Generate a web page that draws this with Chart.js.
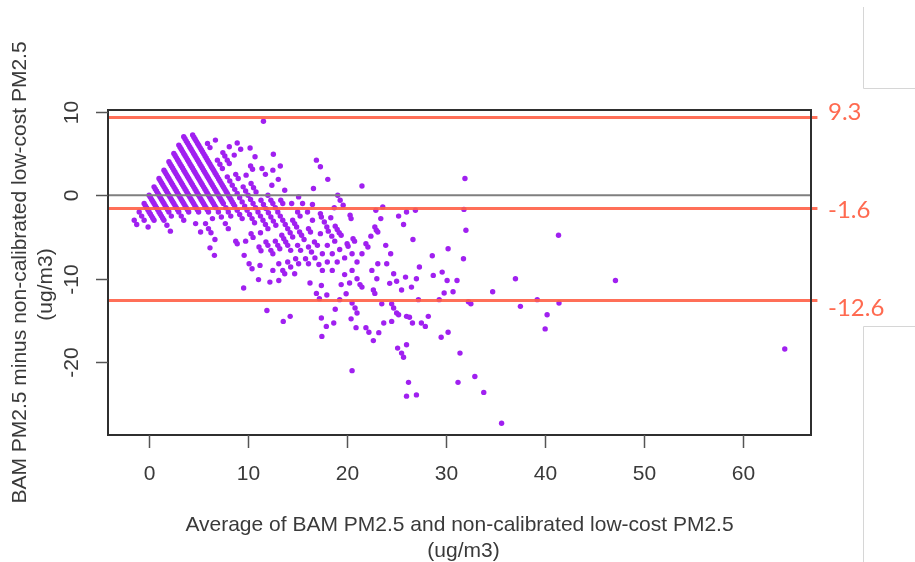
<!DOCTYPE html>
<html>
<head>
<meta charset="utf-8">
<script src="https://cdn.jsdelivr.net/npm/chart.js@4.4.0/dist/chart.umd.min.js"></script>
<style>
  html, body { margin: 0; padding: 0; background: #fff; }
</style>
</head>
<body>
<canvas id="ba-chart" width="915" height="562"></canvas>
<script>
  // Data: [average, difference]
  const coreLeft = [
    [-1.5,-3],[-1.25,-3.5],
    [-1,-2],[-0.75,-2.5],[-0.5,-3],[-0.1,-3.8],
    [-0.5,-1],[-0.25,-1.5],[0,-2],[0.25,-2.5],[0.5,-3],
    [0,0],[0.25,-0.5],[0.5,-1],[0.75,-1.5],[1,-2],[1.25,-2.5],[1.5,-3],[1.8,-3.6],[2.15,-4.3],
    [0.5,1],[0.75,0.5],[1,0],[1.25,-0.5],[1.5,-1],[1.75,-1.5],[2,-2],[2.25,-2.5],
    [1,2],[1.25,1.5],[1.5,1],[1.75,0.5],[2,0],[2.25,-0.5],[2.5,-1],[2.75,-1.5],[3,-2],[3.25,-2.5],[3.5,-3],
    [1.5,3],[1.75,2.5],[2,2],[2.25,1.5],[2.5,1],[2.75,0.5],[3,0],[3.25,-0.5],[3.5,-1],[3.75,-1.5],[4,-2],
    [4.7,-3.4],[5.2,-4.4],[6.15,-6.3],[6.6,-7.2],
    [2,4],[2.25,3.5],[2.5,3],[2.75,2.5],[3,2],[3.25,1.5],[3.5,1],[3.75,0.5],[4,0],[4.25,-0.5],[4.5,-1],[4.75,-1.5],[5,-2],
    [5.7,-3.4],[6,-4],[6.25,-4.5],[6.65,-5.3],[9.55,-11.1],
    [2.5,5],[2.75,4.5],[3,4],[3.25,3.5],[3.5,3],[3.75,2.5],[4,2],[4.25,1.5],[4.5,1],[4.75,0.5],[5,0],[5.25,-0.5],[5.5,-1],[5.75,-1.5],[6,-2],
    [6.4,-2.8],[11.9,-13.8]
  ];
  const coreFill = [
    [-0.375,-1.25],[-0.125,-1.75],[0.125,-2.25],[0.375,-2.75],
    [0.125,-0.25],[0.375,-0.75],[0.625,-1.25],[0.875,-1.75],[1.125,-2.25],[1.375,-2.75],
    [0.625,0.75],[0.875,0.25],[1.125,-0.25],[1.375,-0.75],[1.625,-1.25],[1.875,-1.75],
    [1.125,1.75],[1.375,1.25],[1.625,0.75],[1.875,0.25],[2.125,-0.25],[2.375,-0.75],[2.625,-1.25],[2.875,-1.75],
    [1.625,2.75],[1.875,2.25],[2.125,1.75],[2.375,1.25],[2.625,0.75],[2.875,0.25],[3.125,-0.25],[3.375,-0.75],[3.625,-1.25],[3.875,-1.75],
    [2.125,3.75],[2.375,3.25],[2.625,2.75],[2.875,2.25],[3.125,1.75],[3.375,1.25],[3.625,0.75],[3.875,0.25],[4.125,-0.25],[4.375,-0.75],[4.625,-1.25],[4.875,-1.75],
    [2.625,4.75],[2.875,4.25],[3.125,3.75],[3.375,3.25],[3.625,2.75],[3.875,2.25],[4.125,1.75],[4.375,1.25],[4.625,0.75],[4.875,0.25],[5.125,-0.25],[5.375,-0.75],[5.625,-1.25],[5.875,-1.75],
    [3.125,5.75],[3.375,5.25],[3.625,4.75],[3.875,4.25],[4.125,3.75],[4.375,3.25],[4.625,2.75],[4.875,2.25],[5.125,1.75],[5.375,1.25],[5.625,0.75],[5.875,0.25],[6.125,-0.25],[6.375,-0.75],[6.625,-1.25],
    [3.625,6.75],[3.875,6.25],[4.125,5.75],[4.375,5.25],[4.625,4.75],[4.875,4.25],[5.125,3.75],[5.375,3.25],[5.625,2.75],[5.875,2.25],[6.125,1.75],[6.375,1.25],[6.625,0.75],[6.875,0.25],[7.125,-0.25],[7.375,-0.75],
    [4.525,6.95],[4.775,6.45],[5.025,5.95],[5.275,5.45],[5.525,4.95],[5.775,4.45],[6.025,3.95],[6.275,3.45],[6.525,2.95],[6.775,2.45],[7.025,1.95],[7.275,1.45],[7.525,0.95],[7.775,0.45],[8.025,-0.05],[8.275,-0.55],[8.525,-1.05]
  ];
  const coreRight = [
    [3,6],[3.25,5.5],[3.5,5],[3.75,4.5],[4,4],[4.25,3.5],[4.5,3],[4.75,2.5],[5,2],[5.25,1.5],[5.5,1],[5.75,0.5],[6,0],[6.25,-0.5],[6.5,-1],[6.75,-1.5],[7,-2],
    [7.3,-2.6],[7.7,-3.4],[8,-4],[8.75,-5.5],[8.9,-5.8],[9.6,-7.2],[10.1,-8.2],[10.4,-8.8],[11.05,-10.1],[13.55,-15.1],
    [3.5,7],[3.75,6.5],[4,6],[4.25,5.5],[4.5,5],[4.75,4.5],[5,4],[5.25,3.5],[5.5,3],[5.75,2.5],[6,2],[6.25,1.5],[6.5,1],[6.75,0.5],[7,0],[7.25,-0.5],[7.5,-1],
    [7.75,-1.5],[8,-2],[8.25,-2.5],[9.75,-5.5],[11.2,-8.4],[12.2,-10.4],[14.25,-14.5],
    [4.4,7.2],[4.65,6.7],[4.9,6.2],[5.15,5.7],[5.4,5.2],[5.65,4.7],[5.9,4.2],[6.15,3.7],[6.4,3.2],[6.65,2.7],[6.9,2.2],[7.15,1.7],[7.4,1.2],[7.65,0.7],[7.9,0.2],[8.15,-0.3],[8.4,-0.8],[8.65,-1.3],
    [8.9,-1.8],[9.15,-2.3],[9.4,-2.8],[10.3,-4.6],[10.5,-5.05],[11.1,-6.2],[11.3,-6.65],[12.5,-9],[13.1,-10.2],
    [5.9,6.2],[6.15,5.7],[6.9,4.2],[7.15,3.7],[7.4,3.2],[7.9,2.2],[8.15,1.7],[8.4,1.2],[8.65,0.7],[8.9,0.2],[9.15,-0.3],[9.4,-0.8],[9.65,-1.3],[9.9,-1.8],[10.15,-2.3],
    [10.4,-2.8],[10.65,-3.3],[11.25,-4.5],[11.8,-5.6],[12,-6],[12.3,-6.6],[12.5,-7],[13.1,-8.2],[13.5,-9],[13.7,-9.4],[17.45,-16.9],
    [6.7,6.6],[7.45,5.1],[7.65,4.7],[7.9,4.2],[8.1,3.8],[8.75,2.5],[9,2],[9.5,1],[9.75,0.5],[10,0],[10.25,-0.5],[10.5,-1],[10.75,-1.5],[11,-2],[11.25,-2.5],[11.5,-3],
    [11.75,-3.5],[12,-4],[12.75,-5.5],[13,-6],[13.2,-6.4],[14,-8],[14.3,-8.6],[14.7,-9.4],[17.4,-14.7],[17.9,-15.7],[20.5,-21],
    [8.1,5.8],[8.6,4.8],[9.8,2.4],[10.3,1.4],[10.55,0.9],[10.8,0.4],[11.3,-0.6],[11.55,-1.1],[11.8,-1.6],[12.05,-2.1],[12.3,-2.6],[12.55,-3.1],[12.8,-3.6],
    [13.4,-4.8],[13.6,-5.2],[13.8,-5.6],[14,-6],[14.3,-6.6],[14.8,-7.6],[15.1,-8.2],[16.25,-10.5],[16.9,-11.75],[17.2,-12.4],[18.65,-15.3],
    [8.9,6.25],[9.25,5.5],[10.25,3.5],[10.45,3.1],[12,0],[12.3,-0.6],[12.5,-1],[12.75,-1.5],[13,-2],[13.25,-2.5],[13.5,-3],[13.75,-3.5],[14,-4],[14.25,-4.5],[14.5,-5],
    [15,-6],[15.3,-6.6],[15.8,-7.6],[16.1,-8.2],[17.4,-10.8],[17.95,-11.95],[18.8,-13.65],
    [10.2,5.65],[10.7,4.6],[11.4,3.2],[11.75,2.5],[12.4,1.2],[13.3,-0.6],[13.5,-1],[14.5,-3],[14.7,-3.4],[14.9,-3.8],[15.2,-4.4],[15.4,-4.8],[15.65,-5.3],
    [16.1,-6.2],[16.4,-6.8],[16.75,-7.5],[17.15,-8.3],[17.5,-9],[19.25,-12.5],[20.4,-14.8],[20.9,-15.85]
  ];
  const middleSpread = [
    [16.9,4.2],[17.3,3.4],[18.05,1.9],[16.6,0.8],[21.5,1.1],
    [12.55,4.9],[13.25,3.5],[12.5,3],[13.05,1.9],[13.7,0.6],
    [14.4,-1],[15.1,-0.2],[16.5,-1.1],
    [19.05,0],[19.3,-0.6],[19.6,-1.2],[18.7,-1.5],[18.35,-2.7],
    [20.3,-2.4],[20.4,-2.8],[22.9,-1.8],[23.6,-1.4],[23.4,-2.8],
    [25.2,-2.5],[26,-2],[26.9,-1.8],[25.7,-3.5],
    [22.8,-3.8],[22.95,-4.2],[23.1,-4.4],[22.4,-4.9],
    [23.9,-6],[24.4,-7],[26.65,-5.3],[28.6,-7.25],[30.2,-6.4],
    [20.6,-5.2],[21.9,-5.8],[22.1,-6.2],[20,-5.8],[20.1,-6.1],
    [18.8,-3.7],[19,-4.1],[19.2,-4.5],[19.4,-4.8],
    [17.7,-3.2],[17.95,-3.8],[18.1,-4.3],[17.3,-4.6],[18.45,-4.9],
    [16.7,-5.6],[16.1,-4],[16.3,-4.4],[17.3,-2.2],[17.4,-2.6],
    [15,-2],[15.25,-2.5],[15.5,-1],[16,-2],[16.5,-3],
    [17,-6],[17.5,-7],[18,-8],[18.5,-9],[18,-6],[18.5,-7],[19,-8],[19.75,-9.5],[20.25,-10.5],
    [18.75,-5.5],[19.25,-6.5],[19.75,-7.5],[20.5,-9],[21,-10],[21.5,-11],
    [20.5,-7],[21,-8],[20.75,-5.5],[21.5,-7],[22.5,-9],[23,-10],
    [23.1,-8.2],[24,-8.2],[27.3,-8.6],
    [24.7,-9.4],[25,-10.3],[25.9,-9.8],[27,-10],[26.5,-11],[25.5,-11.35],
    [28.7,-9.6],[29.6,-9.2],[30.1,-10.2],[31.1,-10.2],
    [19.4,-10.7],[19.9,-11.8],[21.3,-10.7],[22.65,-11.35],[22.8,-11.75],[24.3,-10.55],
    [20.5,-12.9],[20.8,-13.5],[21,-14.1],[23.5,-13],[24.5,-13],[24.7,-13.5],[25,-14.1],[25.2,-14.3],
    [27.2,-12.5],[29.3,-12.5],[29.8,-11.7],[30.7,-11.55],[32.25,-12.75],[32.5,-13],[34.7,-11.55],
    [28.2,-14.5],[26,-14.5],[26.3,-14.6],[26.6,-15.3],[27.5,-15.3],[27.9,-15.7],
    [21.9,-15.85],[22.2,-16.4],[22.65,-17.4],[23.2,-16.45],[23.7,-15.3],[24.5,-15.1],
    [25.1,-18.3],[25.5,-18.9],[25.7,-19.4],[26,-17.9],
    [29.5,-17],[30.2,-16.4]
  ];
  const farPoints = [
    [11.55,8.85],
    [31.9,2],[31.8,-1.7],[32,-4.2],[31.75,-7.6],[41.35,-4.8],
    [26.2,-22.4],[26,-24.05],[27,-23.9],
    [31.4,-18.9],[31.2,-22.4],[32.9,-21.7],[33.8,-23.6],[35.6,-27.3],
    [37.5,-13.3],[37,-10],[39.2,-12.5],[40.2,-14.3],[40,-16],[41.4,-12.9],[47.1,-10.2],[64.2,-18.4]
  ];

  // Limits of agreement (upper, mean, lower) and axis ticks
  const limitValues = [9.3, -1.6, -12.6];
  const limitLabels = ['9.3', '-1.6', '-12.6'];
  const xTicks = [0, 10, 20, 30, 40, 50, 60];
  const yTicks = [10, 0, -10, -20];

  const xMin = -4.15, xMax = 66.85;
  const yMin = -28.7, yMax = 10.2;

  const toXY = arr => arr.map(p => ({ x: p[0], y: p[1] }));
  const allPoints = [].concat(toXY(coreLeft), toXY(coreFill), toXY(coreRight), toXY(middleSpread), toXY(farPoints));

  const AXIS_FONT = '21px "Liberation Sans", Arial, sans-serif';

  // R style axes, titles and limit labels drawn against the chart's scales
  const rAxes = {
    id: 'rAxes',
    afterDraw(chart) {
      const { ctx, chartArea: a, scales: { x, y } } = chart;
      ctx.save();

      // faint slide frame lines on the right
      ctx.strokeStyle = '#d6d6d6';
      ctx.lineWidth = 1;
      ctx.beginPath();
      ctx.moveTo(863.5, 7); ctx.lineTo(863.5, 88.5); ctx.lineTo(915, 88.5);
      ctx.moveTo(915, 326.5); ctx.lineTo(863.5, 326.5); ctx.lineTo(863.5, 562);
      ctx.stroke();

      // plot box
      ctx.strokeStyle = '#2f2f2f';
      ctx.lineWidth = 2;
      ctx.strokeRect(a.left, a.top, a.right - a.left, a.bottom - a.top);

      ctx.fillStyle = '#3a3a3a';
      ctx.font = AXIS_FONT;
      ctx.strokeStyle = '#555';
      ctx.lineWidth = 1.5;

      // x axis ticks
      ctx.textAlign = 'center';
      ctx.textBaseline = 'middle';
      xTicks.forEach(v => {
        const px = Math.round(x.getPixelForValue(v)) + 0.5;
        ctx.beginPath(); ctx.moveTo(px, a.bottom); ctx.lineTo(px, a.bottom + 13); ctx.stroke();
        ctx.fillText(String(v), px, a.bottom + 39);
      });

      // y axis ticks, labels rotated like base R
      yTicks.forEach(v => {
        const py = Math.round(y.getPixelForValue(v)) + 0.5;
        ctx.beginPath(); ctx.moveTo(a.left - 12, py); ctx.lineTo(a.left, py); ctx.stroke();
        ctx.save();
        ctx.translate(a.left - 36, py);
        ctx.rotate(-Math.PI / 2);
        ctx.fillText(String(v), 0, 0);
        ctx.restore();
      });

      // axis titles
      const cx = (a.left + a.right) / 2;
      ctx.fillText('Average of BAM PM2.5 and non-calibrated low-cost PM2.5', cx, 525);
      ctx.fillText('(ug/m3)', cx + 4, 551);

      const cy = (a.top + a.bottom) / 2;
      ctx.save();
      ctx.translate(20, cy);
      ctx.rotate(-Math.PI / 2);
      ctx.fillText('BAM PM2.5 minus non-calibrated low-cost PM2.5', 0, 0);
      ctx.restore();
      ctx.save();
      ctx.translate(46, cy + 12);
      ctx.rotate(-Math.PI / 2);
      ctx.fillText('(ug/m3)', 0, 0);
      ctx.restore();

      // limit labels at the right
      const offsets = [-5, 2, 8];
      ctx.fillStyle = '#ff6a50';
      ctx.font = '24px Lato, "Open Sans", sans-serif';
      ctx.textAlign = 'left';
      limitValues.forEach((v, i) => {
        ctx.fillText(limitLabels[i], a.right + 17, y.getPixelForValue(v) + offsets[i]);
      });

      ctx.restore();
    }
  };

  const ctx = document.getElementById('ba-chart').getContext('2d');
  const baChart = new Chart(ctx, {
    type: 'scatter',
    data: {
      datasets: [
        {
          type: 'line',
          data: [{ x: xMin, y: 0 }, { x: xMax, y: 0 }],
          borderColor: '#7f7f7f',
          borderWidth: 2,
          pointRadius: 0,
          order: 0
        },
        ...limitValues.map(v => ({
          type: 'line',
          data: [{ x: xMin, y: v }, { x: 67.5, y: v }],
          borderColor: 'rgba(255, 95, 70, 0.9)',
          borderWidth: 3,
          pointRadius: 0,
          clip: false,
          order: 0
        })),
        {
          data: allPoints,
          backgroundColor: '#a020f0',
          borderWidth: 0,
          pointRadius: 2.7,
          pointHoverRadius: 2.7,
          order: 1
        }
      ]
    },
    options: {
      responsive: false,
      animation: false,
      devicePixelRatio: 1,
      layout: { padding: { left: 108, right: 104, top: 110, bottom: 127 } },
      plugins: { legend: { display: false }, tooltip: { enabled: false } },
      scales: {
        x: { type: 'linear', min: xMin, max: xMax, display: false },
        y: { type: 'linear', min: yMin, max: yMax, display: false }
      }
    },
    plugins: [rAxes]
  });
</script>
</body>
</html>
